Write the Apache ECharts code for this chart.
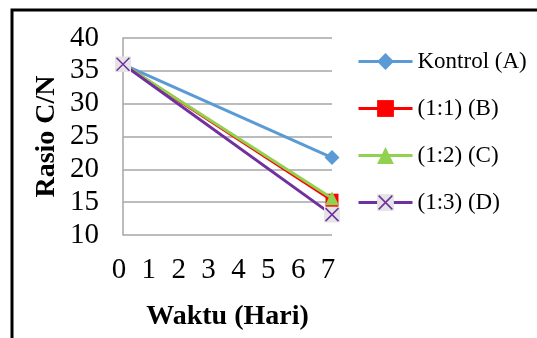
<!DOCTYPE html>
<html>
<head>
<meta charset="utf-8">
<script src="https://cdn.jsdelivr.net/npm/echarts@6/dist/echarts.min.js"></script>
<style>html,body{margin:0;padding:0;background:#fff}#c{width:537px;height:338px}</style>
</head>
<body>
<div id="c"></div>
<script>
var days = [0, 7];
var seriesNames = ['Kontrol (A)', '(1:1) (B)', '(1:2) (C)', '(1:3) (D)'];
var kontrolA = [36, 21.8];
var ratioB = [36, 15.3];
var ratioC = [36, 15.6];
var ratioD = [36, 13.1];
var yTicks = [10, 15, 20, 25, 30, 35, 40];
var xTicks = [0, 1, 2, 3, 4, 5, 6, 7];

function pairs(xs, ys) { return xs.map(function (x, i) { return [x, ys[i]]; }); }

var xSvg = "<svg xmlns='http://www.w3.org/2000/svg' width='32' height='32'><rect x='0' y='0' width='32' height='32' fill='#e4e4e4'/><path d='M3 3L29 29M29 3L3 29' stroke='#7030A0' stroke-width='3'/></svg>";
var xSymbol = 'image://data:image/svg+xml;charset=utf-8,' + encodeURIComponent(xSvg);

var serif = '"Liberation Serif", "Times New Roman", serif';
var chart = echarts.init(document.getElementById('c'), null, {renderer: 'canvas'});
var colors = ['#5B9BD5', '#FF0000', '#92D050', '#7030A0'];
var symbols = ['diamond', 'rect', 'triangle', xSymbol];
var sizes = [15, 13, 14, 16];
var values = [kontrolA, ratioB, ratioC, ratioD];

chart.setOption({
  animation: false,
  textStyle: {fontFamily: serif},
  graphic: [{
    type: 'polyline',
    shape: {points: [[12, 338], [12, 10], [537, 10]]},
    style: {stroke: '#000', lineWidth: 3, fill: null}
  }],
  grid: {left: 123, top: 38, right: 205, bottom: 103, containLabel: false},
  legend: {
    orient: 'vertical',
    left: 357,
    top: 50,
    padding: 0,
    itemWidth: 54,
    itemHeight: 21,
    itemGap: 24,
    lineStyle: {width: 3},
    textStyle: {fontFamily: serif, fontSize: 23, color: '#000'},
    data: seriesNames
  },
  xAxis: {
    type: 'value', min: xTicks[0], max: xTicks[xTicks.length - 1], interval: 1,
    name: 'Waktu (Hari)', nameLocation: 'middle', nameGap: 68,
    nameTextStyle: {fontFamily: serif, fontSize: 28, fontWeight: 'bold', color: '#000'},
    axisLine: {show: false}, axisTick: {show: false}, splitLine: {show: false},
    axisLabel: {fontFamily: serif, fontSize: 29, color: '#000', margin: 21, padding: [0, 8, 0, 0]}
  },
  yAxis: {
    type: 'value', min: yTicks[0], max: yTicks[yTicks.length - 1], interval: 5,
    name: 'Rasio C/N', nameLocation: 'middle', nameGap: 62,
    nameTextStyle: {fontFamily: serif, fontSize: 28, fontWeight: 'bold', color: '#000'},
    axisLine: {show: true, lineStyle: {color: '#A6A6A6', width: 1.5}},
    axisTick: {show: false},
    splitLine: {lineStyle: {color: '#A6A6A6', width: 1.5}},
    axisLabel: {fontFamily: serif, fontSize: 29, color: '#000', margin: 24}
  },
  series: seriesNames.map(function (n, i) {
    return {
      name: n, type: 'line', data: pairs(days, values[i]),
      symbol: symbols[i], symbolSize: sizes[i],
      lineStyle: {color: colors[i], width: 3},
      itemStyle: {color: colors[i]},
      z: 2 + i
    };
  })
});
</script>
</body>
</html>
